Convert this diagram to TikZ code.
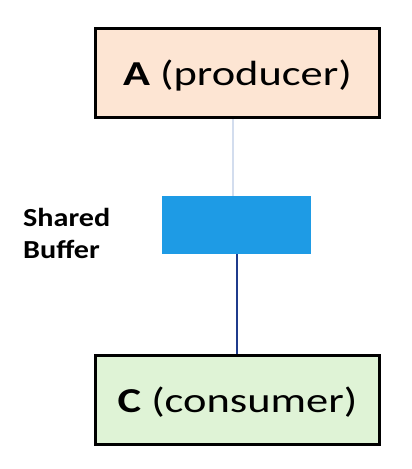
\documentclass[tikz,border=0pt]{standalone}
\usepackage{fontspec}
\setmainfont{Carlito}
\definecolor{peach}{HTML}{FDE5D3}
\definecolor{mint}{HTML}{DFF3D6}
\definecolor{bufblue}{HTML}{1E9BE5}
\definecolor{paleline}{HTML}{D3DDEE}
\definecolor{navyline}{HTML}{1F3B8C}
\newcommand{\wide}[2]{\scalebox{#1}[1]{#2}}
\begin{document}
\begin{tikzpicture}[x=1pt,y=1pt,
  procbox/.style={draw=black,line width=3pt,minimum width=284pt,minimum height=89pt,inner sep=0pt,font=\fontsize{35}{40}\selectfont},
  bufbox/.style={fill=bufblue,minimum width=149pt,minimum height=58pt,inner sep=0pt},
  lbl/.style={font=\bfseries\fontsize{26}{32}\selectfont,align=left,anchor=west,inner sep=0pt}]
\useasboundingbox (0,0) rectangle (412,-469);
\node[procbox,fill=peach] (A) at (237.5,-73) {\raisebox{-12pt}[0pt][0pt]{\wide{1.27}{\textbf{A} (producer)}}};
\node[bufbox] (buf) at (236.5,-225) {};
\node[procbox,fill=mint] (C) at (237.5,-399.5) {\raisebox{-13pt}[0pt][0pt]{\wide{1.27}{\textbf{C} (consumer)}}};
\node[lbl] (lab) at (23,-233) {\wide{1.16}{Shared}\\\wide{1.16}{Buffer}};
\draw[paleline,line width=1.5pt] ([xshift=-4.5pt]A.south) -- ([xshift=-4.5pt]A.south |- buf.north);
\draw[navyline,line width=2pt] (buf.south) -- (buf.south |- C.north);
\end{tikzpicture}
\end{document}
